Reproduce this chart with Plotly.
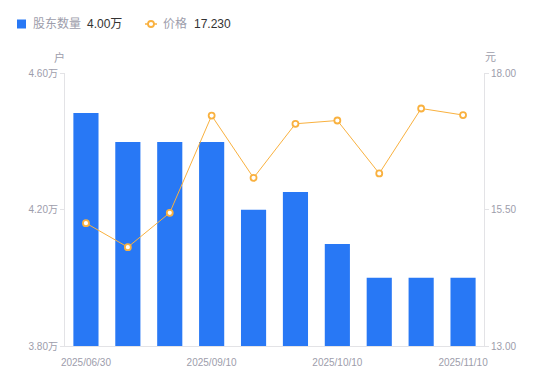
import plotly.graph_objects as go

dates = ["2025/06/30", "2025/07/31", "2025/08/20", "2025/09/10", "2025/09/19",
         "2025/09/30", "2025/10/10", "2025/10/20", "2025/10/31", "2025/11/10"]
holders = [4.483, 4.398, 4.398, 4.398, 4.199, 4.251, 4.099, 4.00, 4.00, 4.00]  # 万户
price = [15.25, 14.81, 15.44, 17.22, 16.08, 17.07, 17.13, 16.16, 17.35, 17.23]
left_ticks = [3.80, 4.20, 4.60]
right_ticks = [13.00, 15.50, 18.00]
tick_dates = ["2025/06/30", "2025/09/10", "2025/10/10", "2025/11/10"]

FONT = "Liberation Sans, Arial, Noto Sans CJK SC, sans-serif"
BLUE = "#2878F5"
ORANGE = "#F9B13F"
GRAY = "#9d9dab"
AXIS = "#e3e3e6"

W, H = 550, 381
L, R, T, B = 65, 66, 73, 35
PW, PH = W - L - R, H - T - B

fig = go.Figure()
fig.add_trace(go.Bar(x=dates, y=holders, marker=dict(color=BLUE, line=dict(width=0)),
                     width=0.6, yaxis="y", name="股东数量"))
fig.add_trace(go.Scatter(x=dates, y=price, yaxis="y2", mode="lines+markers",
                         line=dict(color=ORANGE, width=1),
                         marker=dict(symbol="circle", size=6, color="white",
                                     line=dict(color=ORANGE, width=1.8)),
                         name="价格"))

fig.update_layout(
    width=W, height=H, margin=dict(l=L, r=R, t=T, b=B, autoexpand=False),
    paper_bgcolor="white", plot_bgcolor="white", showlegend=False,
    font=dict(family=FONT, size=10, color=GRAY),
    xaxis=dict(type="category", tickmode="array", tickvals=tick_dates, ticktext=tick_dates,
               showgrid=False, showline=True, linecolor=AXIS, linewidth=1,
               ticks="outside", ticklen=7, tickcolor="rgba(0,0,0,0)",
               tickfont=dict(size=10, color=GRAY), zeroline=False,
               range=[-0.5, len(dates) - 0.5], automargin=False),
    yaxis=dict(range=[left_ticks[0], left_ticks[-1]], tickvals=left_ticks,
               ticktext=[f"{v:.2f}万" for v in left_ticks],
               showgrid=False, showline=True, linecolor=AXIS, linewidth=1,
               ticks="outside", ticklen=4, tickcolor=AXIS, zeroline=False,
               tickfont=dict(size=10, color=GRAY), automargin=False),
    yaxis2=dict(range=[right_ticks[0], right_ticks[-1]], tickvals=right_ticks,
                ticktext=[f"{v:.2f}" for v in right_ticks], overlaying="y", side="right",
                showgrid=False, showline=True, linecolor=AXIS, linewidth=1,
                ticks="outside", ticklen=4, tickcolor=AXIS, zeroline=False,
                tickfont=dict(size=10, color=GRAY), automargin=False),
)

def px(x):
    return (x - L) / PW

def py(y):
    return (H - B - y) / PH

# legend symbols
fig.add_shape(type="rect", xref="paper", yref="paper",
              x0=px(17), x1=px(26), y0=py(28.5), y1=py(19.5),
              fillcolor=BLUE, line=dict(width=0), layer="above")
fig.add_shape(type="line", xref="paper", yref="paper",
              x0=px(145), x1=px(157), y0=py(24), y1=py(24),
              line=dict(color=ORANGE, width=1.5))
fig.add_shape(type="circle", xref="paper", yref="paper",
              x0=px(148), x1=px(154), y0=py(27), y1=py(21),
              fillcolor="white", line=dict(color=ORANGE, width=1.8))

legend_items = [
    (31, "股东数量", GRAY), (85, f"{holders[-1]:.2f}万", "#333333"),
    (161, "价格", GRAY), (192, f"{price[-1]:.3f}", "#333333"),
]
for x, txt, col in legend_items:
    fig.add_annotation(text=txt, xref="paper", yref="paper", x=px(x), y=py(24),
                       xanchor="left", yanchor="middle", showarrow=False,
                       font=dict(size=12, color=col, family=FONT))

# axis unit titles
fig.add_annotation(text="户", xref="paper", yref="paper", x=px(59), y=py(57),
                   xanchor="center", yanchor="middle", showarrow=False,
                   font=dict(size=11, color=GRAY))
fig.add_annotation(text="元", xref="paper", yref="paper", x=px(490), y=py(57),
                   xanchor="center", yanchor="middle", showarrow=False,
                   font=dict(size=11, color=GRAY))

fig.write_html("out.html", config={"displayModeBar": False},
               post_script="document.body.style.margin='0';")
